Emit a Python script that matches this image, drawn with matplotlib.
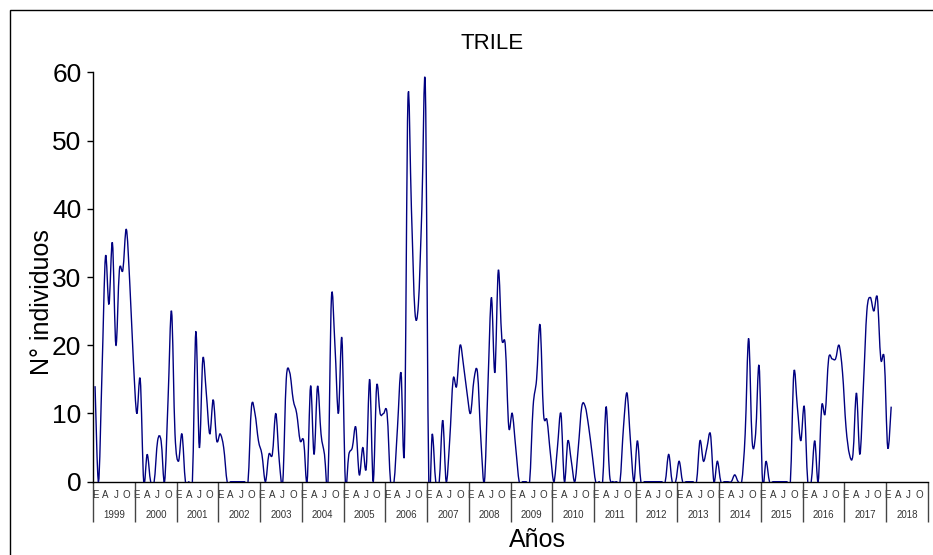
import numpy as np
import matplotlib
matplotlib.use('Agg')
import matplotlib.pyplot as plt
from matplotlib.path import Path
from matplotlib.patches import PathPatch, Rectangle
from matplotlib.transforms import blended_transform_factory

plt.rcParams['font.family'] = ['Liberation Sans', 'DejaVu Sans']

# ---------------- data ----------------
years = [str(y) for y in range(1999, 2019)]
month_letters = ['E', 'A', 'J', 'O']
y_ticks = [0, 10, 20, 30, 40, 50, 60]

# monthly counts (N° individuos), Jan 1999 .. Feb 2018
v1999 = [14, 0, 16, 33, 26, 35, 20, 31, 31, 37, 29, 18]
v2000 = [10, 15, 0, 4, 0, 0, 6, 6, 0, 12, 25, 7]
v2001 = [3, 7, 0, 0, 0, 22, 5, 18, 13, 7, 12, 6]
v2002 = [7, 5, 0, 0, 0, 0, 0, 0, 0, 11, 10, 6]
v2003 = [4, 0, 4, 4, 10, 3, 0, 15, 16, 12, 10, 6]
v2004 = [6, 0, 14, 4, 14, 7, 4, 0, 27, 20, 10, 21]
v2005 = [0, 4, 5, 8, 1, 5, 2, 15, 0, 14, 10, 10]
v2006 = [10, 0, 0, 8, 16, 5, 56, 40, 25, 26, 40, 58]
v2007 = [0, 7, 0, 0, 9, 0, 6, 15, 14, 20, 17, 13]
v2008 = [10, 15, 16, 6, 0, 14, 27, 16, 31, 21, 20, 8]
v2009 = [10, 5, 0, 0, 0, 0, 11, 15, 23, 10, 9, 4]
v2010 = [0, 5, 10, 0, 6, 3, 0, 5, 11, 11, 8, 4]
v2011 = [0, 0, 0, 11, 1, 0, 0, 0, 8, 13, 6, 0]
v2012 = [6, 0, 0, 0, 0, 0, 0, 0, 0, 4, 0, 0]
v2013 = [3, 0, 0, 0, 0, 0, 6, 3, 5, 7, 0, 3]
v2014 = [0, 0, 0, 0, 1, 0, 0, 7, 21, 6, 7, 17]
v2015 = [0, 3, 0, 0, 0, 0, 0, 0, 0, 16, 11, 6]
v2016 = [11, 0, 0, 6, 0, 11, 10, 18, 18, 18, 20, 16]
v2017 = [8, 4, 4, 13, 4, 14, 25, 27, 25, 27, 18, 18]
v2018 = [5, 11]

individuos = (v1999 + v2000 + v2001 + v2002 + v2003 + v2004 + v2005 + v2006 +
              v2007 + v2008 + v2009 + v2010 + v2011 + v2012 + v2013 + v2014 +
              v2015 + v2016 + v2017 + v2018)

# ---------------- figure ----------------
W, H = 933, 555
fig = plt.figure(figsize=(W / 100, H / 100), dpi=100)
ax = fig.add_axes([93.3 / W, 1 - 481.7 / H, 834.4 / W, 409.4 / H])

n_months = 12 * len(years)
ax.set_xlim(0, n_months)
ax.set_ylim(0, 60)

# smoothed line (Excel-like Catmull-Rom Bezier) built from the data
x = np.arange(len(individuos)) + 0.5
y = np.asarray(individuos, dtype=float)
P = np.column_stack([x, y])
Pe = np.vstack([P[0], P, P[-1]])
verts = [P[0]]
codes = [Path.MOVETO]
for i in range(len(P) - 1):
    p0, p1, p2, p3 = Pe[i], Pe[i + 1], Pe[i + 2], Pe[i + 3]
    c1 = p1 + (p2 - p0) / 6.0
    c2 = p2 - (p3 - p1) / 6.0
    verts += [c1, c2, p2]
    codes += [Path.CURVE4] * 3
patch = PathPatch(Path(verts, codes), facecolor='none', edgecolor='#000080',
                  lw=1.0, transform=ax.transData, zorder=3)
ax.add_patch(patch)

# spines
for s in ['top', 'right']:
    ax.spines[s].set_visible(False)
for s in ['left', 'bottom']:
    ax.spines[s].set_color('black')
    ax.spines[s].set_linewidth(1.0)

# y axis
ax.set_yticks(y_ticks)
ax.set_yticklabels([str(t) for t in y_ticks])
ax.tick_params(axis='y', direction='out', length=4.5, width=1.0, colors='black',
               labelsize=19, pad=4)

# x axis: month letters as major ticks, year boundaries as long minor ticks
month_pos = []
month_lab = []
for k in range(len(years)):
    for m, lab in zip([0, 3, 6, 9], month_letters):
        month_pos.append(12 * k + m + 0.5)
        month_lab.append(lab)
ax.set_xticks(month_pos)
ax.set_xticklabels(month_lab)
ax.set_xticks(np.arange(0, n_months + 1, 12), minor=True)
ax.tick_params(axis='x', which='major', length=0, labelsize=7, pad=6,
               labelcolor='#333333')
ax.tick_params(axis='x', which='minor', direction='out', length=29, width=1.0,
               color='#444444')

trans = blended_transform_factory(ax.transData, ax.transAxes)
for k, yr in enumerate(years):
    ax.text(12 * k + 6, -0.081, yr, transform=trans, ha='center', va='center',
            fontsize=7, color='#333333')

# texts
fig.text(492 / W, 1 - 43.5 / H, 'TRILE', ha='center', va='center', fontsize=16)
fig.text(42 / W, 1 - 302 / H, 'N° individuos', rotation=90, ha='center',
         va='center', fontsize=18)
fig.text(537 / W, 1 - 540 / H, 'Años', ha='center', va='center', fontsize=18)

# chart-area border
fig.patches.append(Rectangle((10 / W, -0.2), 1.5, 1 - 10 / H + 0.2,
                             transform=fig.transFigure, fill=False,
                             edgecolor='black', lw=1.0))

fig.savefig('out.png', dpi=100)
